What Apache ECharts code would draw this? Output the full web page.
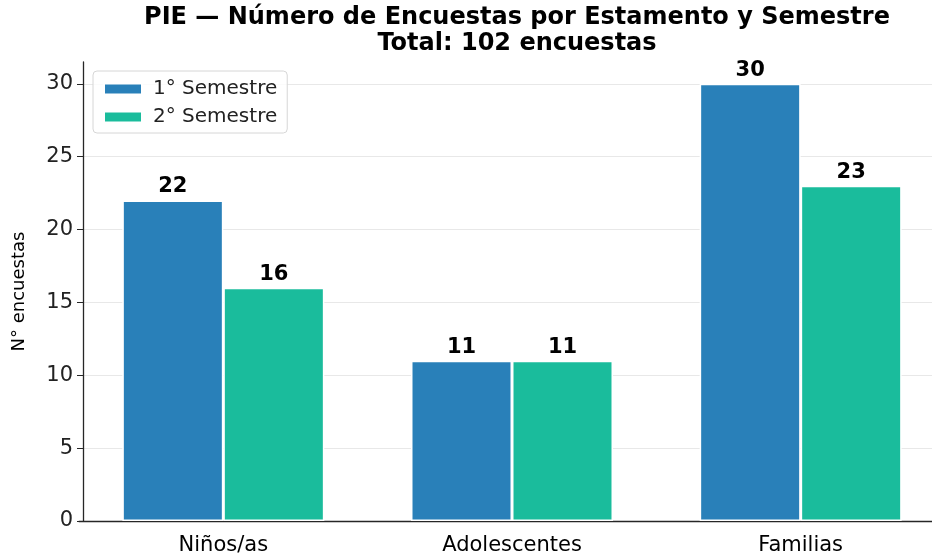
<!DOCTYPE html>
<html>
<head>
<meta charset="utf-8">
<script src="https://cdn.jsdelivr.net/npm/echarts@6/dist/echarts.min.js"></script>
<style>
  html, body { margin: 0; padding: 0; background: #fff; }
  #chart-container { width: 932px; height: 558px; }
</style>
</head>
<body>
<div id="chart-container"></div>
<script>
var dom = document.getElementById('chart-container');
var myChart = echarts.init(dom, null, { renderer: 'canvas' });

// data
var categories = ['Niños/as', 'Adolescentes', 'Familias'];
var semestre1 = [22, 11, 30];
var semestre2 = [16, 11, 23];
var yTicks = [0, 5, 10, 15, 20, 25, 30];

var font = 'DejaVu Sans';

function barSeries(name, values, color) {
    return {
        name: name,
        type: 'bar',
        data: values,
        barWidth: 101,
        barGap: '0%',
        itemStyle: { color: color, borderColor: '#ffffff', borderWidth: 1.5 },
        label: {
            show: true,
            position: 'top',
            distance: 3,
            fontFamily: font,
            fontWeight: 'bold',
            fontSize: 21,
            color: '#000'
        }
    };
}

var option = {
    animation: false,
    title: {
        text: 'PIE — Número de Encuestas por Estamento y Semestre\nTotal: 102 encuestas',
        left: 512,
        top: 0,
        textAlign: 'center',
        textStyle: { fontFamily: font, fontWeight: 'bold', fontSize: 24, lineHeight: 26, color: '#000' }
    },
    legend: {
        left: 93,
        top: 71,
        orient: 'vertical',
        icon: 'rect',
        itemWidth: 38,
        itemHeight: 11,
        itemGap: 8,
        padding: [8, 10, 6, 10],
        borderColor: '#d6d6d6',
        borderWidth: 1,
        borderRadius: 4,
        backgroundColor: 'rgba(255,255,255,0.8)',
        textStyle: { fontFamily: font, fontSize: 20, lineHeight: 19, color: '#222', padding: [0, 0, 0, 6] },
        data: ['1° Semestre', '2° Semestre']
    },
    grid: { left: 79, width: 866, top: 62, bottom: 37, containLabel: false, outerBoundsMode: 'none' },
    xAxis: {
        type: 'category',
        data: categories,
        axisLine: { lineStyle: { color: '#262626', width: 1.3 } },
        axisTick: { alignWithLabel: true, length: 6, lineStyle: { color: '#262626' } },
        axisLabel: { fontFamily: font, fontSize: 21, color: '#000', margin: 14 }
    },
    yAxis: {
        type: 'value',
        min: 0,
        max: 31.5,
        interval: 5,
        offset: -4,
        name: 'N° encuestas',
        nameLocation: 'middle',
        nameGap: 55,
        nameTextStyle: { fontFamily: font, fontSize: 18, color: '#000' },
        axisLine: { show: true, lineStyle: { color: '#262626', width: 1.3 } },
        axisTick: { show: true, length: 6, customValues: yTicks, lineStyle: { color: '#262626' } },
        axisLabel: { fontFamily: font, fontSize: 21, color: '#222', margin: 10, customValues: yTicks },
        splitLine: { show: true, lineStyle: { color: '#e8e8e8', width: 1.2 } }
    },
    series: [
        barSeries('1° Semestre', semestre1, '#2980b9'),
        barSeries('2° Semestre', semestre2, '#1abc9c')
    ]
};

myChart.setOption(option);
window.addEventListener('resize', myChart.resize);
</script>
</body>
</html>
